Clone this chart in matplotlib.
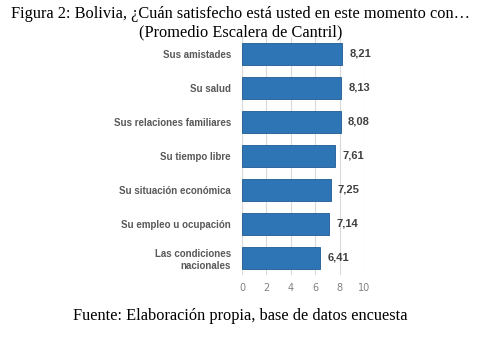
import matplotlib
matplotlib.use("Agg")
import matplotlib.pyplot as plt

categories = ["Sus amistades", "Su salud", "Sus relaciones familiares",
              "Su tiempo libre", "Su situación económica",
              "Su empleo u ocupación", "Las condiciones\nnacionales"]
values = [8.21, 8.13, 8.08, 7.61, 7.25, 7.14, 6.41]
xticks = [0, 2, 4, 6, 8, 10]

fig = plt.figure(figsize=(4.81, 3.39), dpi=100)
ax = fig.add_axes([0.503, 0.189, 0.254, 0.702])

pos = list(range(len(categories)))[::-1]
ax.barh(pos, values, height=0.65, color="#2E75B6", edgecolor="#1F5A94", linewidth=0.6, zorder=3)
for p, v in zip(pos, values):
    ax.text(v + 0.6, p, f"{v:.2f}".replace(".", ","), va="center", ha="left",
            fontsize=8, fontweight="bold", color="#404040", family="Liberation Sans")

ax.set_xlim(0, 10)
ax.set_ylim(-0.5, 6.5)
ax.set_xticks(xticks)
ax.set_xticklabels([str(t) for t in xticks], fontsize=7, color="#808080")
ax.set_yticks(pos)
ax.set_yticklabels(categories, fontsize=7, color="#595959", fontweight="bold",
                   family="Liberation Sans")
ax.tick_params(length=0, pad=8)
ax.tick_params(axis="x", pad=6)
ax.grid(axis="x", color="#D9D9D9", linewidth=0.8, zorder=0)
for s in ax.spines.values():
    s.set_visible(False)
ax.axvline(0, color="#D9D9D9", linewidth=0.8, zorder=1)

fig.text(0.5, 0.958, "Figura 2: Bolivia, ¿Cuán satisfecho está usted en este momento con…",
         ha="center", va="center", fontsize=11.8, family="Liberation Serif")
fig.text(0.5, 0.905, "(Promedio Escalera de Cantril)",
         ha="center", va="center", fontsize=11.8, family="Liberation Serif")
fig.text(0.5, 0.068, "Fuente: Elaboración propia, base de datos encuesta",
         ha="center", va="center", fontsize=11.8, family="Liberation Serif")

fig.savefig("out.png", dpi=100)
